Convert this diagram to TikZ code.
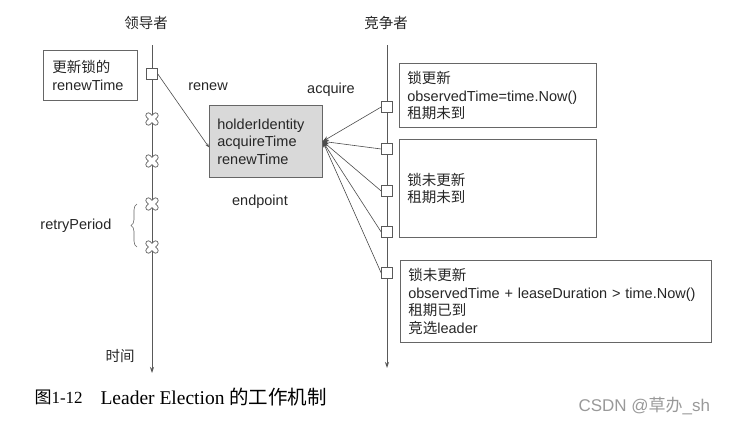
\documentclass[tikz,border=0pt]{standalone}
\usepackage{fontspec}
\setmainfont{Liberation Sans}
\newfontfamily\cjk{Noto Sans CJK SC}
\newfontfamily\capfont{Liberation Serif}
\usetikzlibrary{arrows.meta,decorations.pathreplacing}
\begin{document}
\begin{tikzpicture}[x=1pt,y=-1pt,
every node/.style={font=\fontsize{14.5}{17.5}\selectfont,text=black!85},
life/.style={%
draw=black!65,
line width=0.8pt,
-{Stealth[length=6pt,width=4pt]}
},
box/.style={%
draw=black!60,
line width=0.7pt,
anchor=north west,
align=left,
inner sep=8pt
},
sqbox/.style={%
draw=black!65,
fill=white,
line width=0.6pt,
minimum size=11pt,
inner sep=0pt
},
link/.style={%
draw=black!70,
line width=0.6pt,
-{Stealth[length=6pt,width=4.5pt]}
}]
\useasboundingbox (0,0) rectangle (734,426);
% lifelines
\node (lead) at (146,23) {\cjk 领导者};
\node (comp) at (386,23) {\cjk 竞争者};
\coordinate (ltop) at (152,45);
\coordinate (lbot) at (152,373);
\coordinate (ctop) at (387,45);
\coordinate (cbot) at (387,368);
\draw[life] (ltop) -- (lbot);
\draw[life] (ctop) -- (cbot);
\node (tm) at (120,356) {\cjk 时间};
% leader side
\node[box,inner sep=9pt,text width=76pt,minimum height=50pt] (upd) at (43,50) {{\cjk 更新锁的}\\renewTime};
\node[box,fill=black!15,text width=97pt,minimum height=72pt] (hold) at (209,105) {holderIdentity\\acquireTime\\renewTime};
\node[sqbox] (ldsq) at (152,74) {};
\draw[link,-{Stealth[length=4pt,width=3pt]}] (ldsq.east) -- (hold.186);
\node (rn) at (208,87) {renew};
\node (ep) at (260,202) {endpoint};
\foreach \y[count=\i from 1] in {119,161,204,247}{%
\coordinate (x\i) at (152,\y);
\draw[line width=6pt,black!60,line cap=round] ([shift={(-3.6,-3.6)}]x\i) -- ([shift={(3.6,3.6)}]x\i) ([shift={(-3.6,3.6)}]x\i) -- ([shift={(3.6,-3.6)}]x\i);
\draw[line width=4.2pt,white,line cap=round] ([shift={(-3.6,-3.6)}]x\i) -- ([shift={(3.6,3.6)}]x\i) ([shift={(-3.6,3.6)}]x\i) -- ([shift={(3.6,-3.6)}]x\i);
}
\draw[decorate,decoration={brace,amplitude=6pt},draw=black!60,line width=0.6pt] ([xshift=-15pt]x4) -- ([xshift=-15pt]x3) node[midway,left=22pt,anchor=east] (rp) {retryPeriod};
% competitor side
\node (aq) at (331,90) {acquire};
\foreach \y[count=\i from 1] in {107,149,191,232,273}{%
\node[sqbox] (cp\i) at (387,\y) {};
\draw[link] (cp\i.west) -- (hold.east);
}
\node[box,text width=181pt,minimum height=62pt] (st1) at (399,63) {{\cjk 锁更新}\\observedTime=time.Now()\\{\cjk 租期未到}};
\node[box,text width=181pt,minimum height=98pt] (st2) at (399,139) {{\cjk 锁未更新}\\{\cjk 租期未到}};
\node[box,text width=295pt,minimum height=79pt] (st3) at (400,260) {{\cjk 锁未更新}\\observedTime + leaseDuration > time.Now()\\{\cjk 租期已到}\\{\cjk 竞选}leader};
% caption and mark
\node[anchor=west,text=black,font=\fontsize{17}{20}\selectfont] (fig) at (31,397) {{\cjk 图}{\capfont 1-12}};
\node[anchor=west,text=black,font=\fontsize{19.5}{22}\selectfont] (cap) at (97,397) {{\capfont Leader Election }{\cjk 的工作机制}};
\node[anchor=west,text=black!40,font=\fontsize{17}{20}\selectfont] (wm) at (575,406) {CSDN @{\cjk 草办}\_sh};
\end{tikzpicture}
\end{document}
